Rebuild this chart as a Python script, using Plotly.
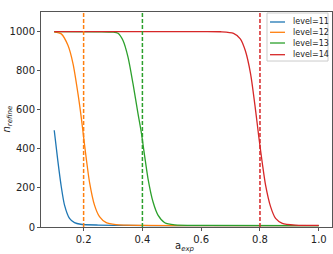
import plotly.graph_objects as go

levels = ["level=11", "level=12", "level=13", "level=14"]
colors = ["#1f77b4", "#ff7f0e", "#2ca02c", "#d62728"]

a_11 = [0.100, 0.112, 0.124, 0.135, 0.152, 0.169, 0.190, 0.250, 0.350, 0.500, 0.700, 1.000]
n_11 = [495, 342, 206, 112, 44, 22, 14, 10, 8, 7, 7, 7]

a_12 = [0.100, 0.124, 0.147, 0.164, 0.181, 0.192, 0.200, 0.209, 0.220, 0.237, 0.254, 0.277, 0.310, 0.400, 0.600, 1.000]
n_12 = [997, 988, 928, 835, 680, 560, 460, 350, 230, 112, 53, 22, 12, 8, 7, 7]

a_13 = [0.100, 0.250, 0.300, 0.317, 0.334, 0.351, 0.368, 0.385, 0.396, 0.408, 0.419, 0.436, 0.453, 0.476, 0.510, 0.600, 1.000]
n_13 = [1000, 999, 997, 991, 954, 869, 733, 580, 486, 359, 248, 129, 61, 22, 11, 8, 7]

a_14 = [0.100, 0.600, 0.665, 0.710, 0.733, 0.750, 0.768, 0.785, 0.796, 0.808, 0.819, 0.836, 0.853, 0.876, 0.921, 1.000]
n_14 = [1000, 1000, 999, 991, 963, 903, 784, 597, 461, 325, 214, 104, 44, 19, 10, 8]

vline_a = [0.2, 0.4, 0.8]
vline_colors = ["#ff7f0e", "#2ca02c", "#d62728"]

x_ticks = [0.2, 0.4, 0.6, 0.8, 1.0]
y_ticks = [0, 200, 400, 600, 800, 1000]

series = [(a_11, n_11), (a_12, n_12), (a_13, n_13), (a_14, n_14)]

fig = go.Figure()
for (xs, ys), name, c in zip(series, levels, colors):
    fig.add_trace(go.Scatter(x=xs, y=ys, mode="lines", name=name, showlegend=False,
                             line=dict(color=c, width=1.3, shape="spline", smoothing=0.7)))

for xv, c in zip(vline_a, vline_colors):
    fig.add_shape(type="line", x0=xv, x1=xv, y0=0, y1=1, yref="paper", xref="x",
                  line=dict(color=c, width=1.5, dash="4px,2px"))

# manual matplotlib-style legend (upper right)
fig.add_shape(type="rect", xref="paper", yref="paper", x0=0.7766, x1=0.9863, y0=0.772, y1=0.9953,
              line=dict(color="#cccccc", width=1), fillcolor="rgba(255,255,255,0.85)")
row_y = [0.9535, 0.9056, 0.8558, 0.8014]
for ry, name, c in zip(row_y, levels, colors):
    fig.add_shape(type="line", xref="paper", yref="paper", x0=0.787, x1=0.8385, y0=ry, y1=ry,
                  line=dict(color=c, width=1.3))
    fig.add_annotation(xref="paper", yref="paper", x=0.858, y=ry, text=name, showarrow=False,
                       xanchor="left", yanchor="middle", font=dict(size=8, color="#222"))

# axis titles
fig.add_annotation(xref="paper", yref="paper", x=0.495, y=0, yshift=-19, text="a<sub><i>exp</i></sub>",
                   showarrow=False, xanchor="center", yanchor="middle", font=dict(size=10, color="#222"))
fig.add_annotation(xref="paper", yref="paper", x=0, xshift=-34, y=0.5, text="<i>n<sub>refine</sub></i>",
                   showarrow=False, textangle=-90, xanchor="center", yanchor="middle",
                   font=dict(size=10, color="#222"))

fig.update_layout(
    width=333, height=254,
    margin=dict(l=41, r=1, t=12, b=27),
    plot_bgcolor="white", paper_bgcolor="white",
    font=dict(family="DejaVu Sans", size=10, color="#222"),
    showlegend=False,
    xaxis=dict(range=[0.055, 1.045], tickvals=x_ticks, ticktext=[f"{v:.1f}" for v in x_ticks],
               showgrid=False, zeroline=False, showline=True, linecolor="#555", linewidth=1,
               mirror=True, ticks="outside", ticklen=3, tickcolor="#555", automargin=False),
    yaxis=dict(range=[0, 1100], tickvals=y_ticks,
               showgrid=False, zeroline=False, showline=True, linecolor="#555", linewidth=1,
               mirror=True, ticks="outside", ticklen=3, tickcolor="#555", automargin=False),
)

fig.write_html("out.html", config={"displayModeBar": False},
               post_script="document.body.style.margin='0';document.body.style.overflow='hidden';")
